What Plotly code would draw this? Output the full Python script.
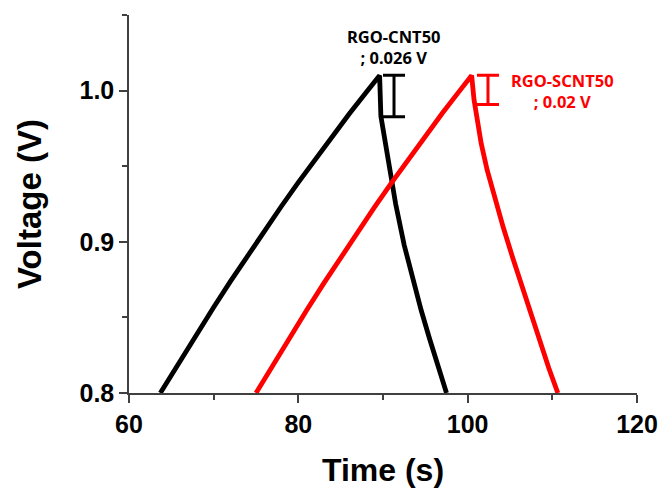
import plotly.graph_objects as go

# ---- data ----
black_t = [63.7, 66.0, 68.0, 70.0, 72.0, 74.0, 76.0, 78.0, 80.0, 82.0, 84.0, 86.0, 88.0, 89.6,
           89.75, 90.5, 91.5, 92.5, 93.5, 94.5, 95.5, 96.5, 97.5]
black_v = [0.8000, 0.8211, 0.8391, 0.8567, 0.8740, 0.8908, 0.9074, 0.9235, 0.9393, 0.9547,
           0.9698, 0.9845, 0.9988, 1.0100,
           0.9831, 0.9569, 0.9249, 0.8979, 0.8749, 0.8549, 0.8359, 0.8179, 0.8000]

red_t = [75.0, 77.0, 79.0, 81.0, 83.0, 85.0, 87.0, 89.0, 91.0, 93.0, 95.0, 97.0, 99.0, 100.47,
         100.75, 101.1, 101.6, 102.3, 103.2, 104.2, 105.3, 106.4, 107.5, 108.6, 109.6, 110.65]
red_v = [0.8000, 0.8187, 0.8370, 0.8549, 0.8725, 0.8897, 0.9065, 0.9229, 0.9390, 0.9547,
         0.9700, 0.9850, 0.9995, 1.0100,
         0.9940, 0.9800, 0.9650, 0.9475, 0.9286, 0.9096, 0.8898, 0.8706, 0.8517, 0.8330,
         0.8162, 0.8000]

series_names = ["RGO-CNT50", "RGO-SCNT50"]
series_colors = ["#000000", "#FF0000"]
ir_labels = ["; 0.026 V", "; 0.02 V"]
bar_t = [91.3, 102.4]        # time position of IR-drop bars
bar_top = [1.0101, 1.0101]   # top of IR-drop bars
bar_span = [0.0274, 0.0193]  # IR drop length

x_ticks = [60, 80, 100, 120]
y_ticks = [0.8, 0.9, 1.0]

fig = go.Figure()
for t, v, name, col in [(black_t, black_v, series_names[0], series_colors[0]),
                        (red_t, red_v, series_names[1], series_colors[1])]:
    fig.add_trace(go.Scatter(x=t, y=v, mode="lines", name=name,
                             line=dict(color=col, width=4.8), showlegend=False))

for i in range(2):
    fig.add_trace(go.Scatter(
        x=[bar_t[i]], y=[bar_top[i] - bar_span[i] / 2], mode="markers",
        marker=dict(size=1, color="rgba(0,0,0,0)"),
        error_y=dict(type="data", array=[bar_span[i] / 2], symmetric=True,
                     width=11, thickness=3, color=series_colors[i]),
        showlegend=False))

# label anchor positions (in axis units)
label_pos = [(91.35, 1.0286), (111.2, 1.0000)]
for i in range(2):
    lx, ly = label_pos[i]
    fig.add_annotation(x=lx, y=ly, xref="x", yref="y",
                       text=series_names[i] + "<br>" + ir_labels[i], showarrow=False,
                       xanchor="center", yanchor="middle", align="center",
                       font=dict(family="Noto Sans", size=16.5, weight="bold",
                                 color=series_colors[i]))

tick_font = dict(family="Liberation Sans", size=25, color="black", weight="bold")
axis_common = dict(showline=True, linecolor="#404040", linewidth=1.5, mirror=False,
                   showgrid=False, zeroline=False, ticks="outside", ticklen=8,
                   tickwidth=1.5, tickcolor="#404040", tickfont=tick_font)

fig.update_xaxes(range=[60, 120], tickvals=x_ticks, ticktext=[str(v) for v in x_ticks],
                 minor=dict(dtick=10, tick0=60, ticks="outside", ticklen=5,
                            tickwidth=1.5, tickcolor="#404040"),
                 title=dict(text="Time (s)", standoff=22,
                            font=dict(family="Liberation Sans", size=32, color="black",
                                      weight="bold")),
                 **axis_common)
fig.update_yaxes(range=[0.8, 1.05], tickvals=y_ticks, ticktext=["0.8", "0.9", "1.0"],
                 minor=dict(dtick=0.05, tick0=0.8, ticks="outside", ticklen=5,
                            tickwidth=1.5, tickcolor="#404040"),
                 title=dict(text="Voltage (V)", standoff=28,
                            font=dict(family="Liberation Sans", size=33, color="black",
                                      weight="bold")),
                 **axis_common)

fig.update_layout(width=670, height=494, margin=dict(l=129, r=28, t=15, b=99),
                  plot_bgcolor="white", paper_bgcolor="white")

fig.write_html("out.html")
